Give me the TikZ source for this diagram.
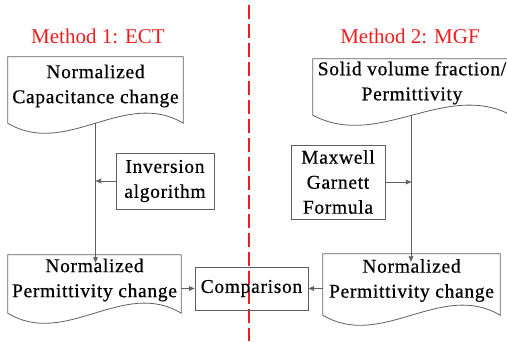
\documentclass[tikz,border=0pt]{standalone}
\usepackage{fontspec}
\setmainfont{Liberation Serif}
\newfontfamily\spacedserif[LetterSpace=3.5, FakeBold=0.6]{Liberation Serif}
\usetikzlibrary{arrows.meta,calc}

\definecolor{linegray}{RGB}{95,95,95}
\definecolor{titlered}{RGB}{235,30,30}

% document symbol: straight top and sides, wavy bottom below the node
\newcommand{\docframe}[1]{%
    \draw[frame] (#1.north west) -- ([yshift=-8pt]#1.south west)
        .. controls ($(#1.south west)!0.333!(#1.south east)+(0,-43pt)$)
        and ($(#1.south west)!0.667!(#1.south east)+(0,27pt)$)
        .. ([yshift=-8pt]#1.south east) -- (#1.north east) -- cycle;}

\begin{document}
\begin{tikzpicture}[x=1pt, y=-1pt,
        frame/.style={draw=linegray, line width=0.8pt},
        doc/.style={inner sep=0pt, align=center, font=\spacedserif\fontsize{19.5}{25}\selectfont},
        plainbox/.style={draw=linegray, line width=0.8pt, inner sep=0pt, align=center,
            font=\spacedserif\fontsize{19.5}{25}\selectfont},
        title/.style={text=titlered, font=\fontsize{21}{24}\selectfont},
        arrow/.style={draw=linegray, line width=0.8pt,
            -{Stealth[length=6pt, width=5pt, inset=1pt]}}]
        \useasboundingbox (0,0) rectangle (507,341);

        \draw[titlered, line width=1.6pt, dash pattern=on 14pt off 5pt] (249,5) -- (249,341);

        \node[title] (t1) at (98,36) {Method 1: ECT};
        \node[title] (t2) at (410,36) {Method 2: MGF};

        \node[doc, minimum width=175, minimum height=58] (doc1) at (95.5,86)
            {Normalized\\Capacitance change};
        \node[doc, minimum width=198, minimum height=48] (doc2) at (412,83)
            {Solid volume fraction/\\Permittivity};
        \node[doc, minimum width=173, minimum height=50] (doc3) at (94.5,280)
            {Normalized\\Permittivity change};
        \node[doc, minimum width=177, minimum height=53] (doc4) at (411.5,280.5)
            {Normalized\\Permittivity change};
        \docframe{doc1}
        \docframe{doc2}
        \docframe{doc3}
        \docframe{doc4}

        \node[plainbox, minimum width=98, minimum height=56] (inv) at (165,181)
            {Inversion\\algorithm};
        \node[plainbox, minimum width=94, minimum height=74] (mgf) at (338,182)
            {Maxwell\\Garnett\\Formula};
        \node[plainbox, minimum width=113, minimum height=43] (comp) at (251.5,288.5)
            {Comparison};

        \draw[arrow] ([yshift=-8pt]doc1.south) -- ([yshift=-8pt]doc1.south |- doc3.north);
        \draw[arrow] (inv.west) -- (inv.west -| doc1.south);
        \draw[arrow] ([xshift=-1pt, yshift=-8pt]doc2.south) -- ([xshift=-1pt, yshift=-8pt]doc2.south |- doc4.north);
        \draw[arrow] (mgf.east) -- (mgf.east -| doc4.north);
        \draw[arrow] (comp.west -| doc3.east) -- (comp.west);
        \draw[arrow] (comp.east -| doc4.west) -- (comp.east);
    \end{tikzpicture}
\end{document}
